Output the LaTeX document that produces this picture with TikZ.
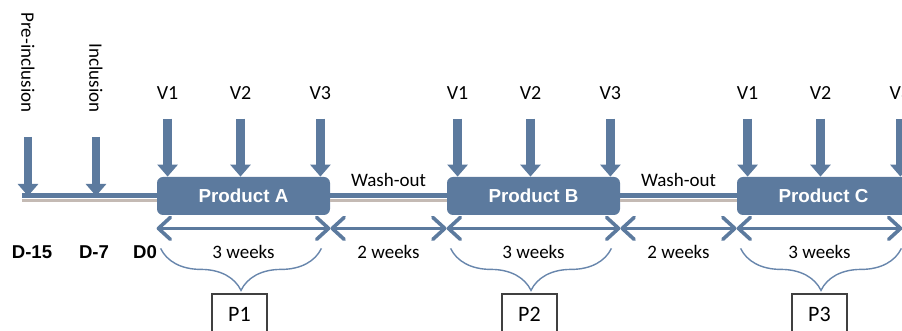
\documentclass[tikz,border=0pt]{standalone}
\usepackage{fontspec}
\setmainfont{Carlito}
\newfontfamily\arialfont{Liberation Sans}
\usetikzlibrary{arrows.meta,positioning,decorations.pathreplacing}
\definecolor{stblue}{RGB}{92,122,158}
\definecolor{stgrey}{RGB}{196,186,180}
\definecolor{brblue}{RGB}{104,134,172}
\definecolor{boxgrey}{RGB}{64,64,64}
\tikzset{
  product/.style={rectangle, rounded corners=3pt, fill=stblue, text=white,
    minimum width=86.5pt, minimum height=19pt,
    font=\arialfont\bfseries\fontsize{9.4}{11}\selectfont},
  visit/.style={draw=stblue, line width=4.2pt, -{Triangle[width=10pt,length=6pt]}},
  tline/.style={draw=stblue, line width=2.5pt},
  tgrey/.style={draw=stgrey, line width=1.5pt},
  span/.style={draw=stblue, line width=1.8pt,
    {Straight Barb[length=6pt,width=11pt,round]}-{Straight Barb[length=6pt,width=11pt,round]}},
  brc/.style={draw=brblue, line width=0.7pt, decorate,
    decoration={brace, mirror, amplitude=21pt}},
  pbox/.style={rectangle, draw=boxgrey, line width=0.6pt, fill=white,
    minimum width=27.5pt, minimum height=20pt, font=\fontsize{11}{13}\selectfont},
  vlab/.style={font=\fontsize{10}{12}\selectfont},
  wlab/.style={above=0pt, font=\fontsize{9.5}{11}\selectfont},
  slab/.style={below=4pt, font=\fontsize{9.5}{11}\selectfont},
  rlab/.style={rotate=-90, anchor=east, inner sep=0pt, font=\fontsize{9.5}{11}\selectfont},
  dlab/.style={font=\arialfont\bfseries\fontsize{9.3}{11}\selectfont}
}

\begin{document}
\begin{tikzpicture}[x=0.5pt,y=-0.5pt]
  \useasboundingbox (0,0) rectangle (902,331);

  % treatment periods
  \node[product] (pA) at (243.5,196) {Product A};
  \node[product] (pB) at (533.5,196) {Product B};
  \node[product] (pC) at (823.5,196) {Product C};
  \coordinate (start) at (22,196);

  % time line
  \draw[tgrey] ([yshift=-2.25pt]start) -- ([yshift=-2.25pt]pA.west);
  \draw[tgrey] ([yshift=-2.25pt]pA.east) -- ([yshift=-2.25pt]pB.west);
  \draw[tgrey] ([yshift=-2.25pt]pB.east) -- ([yshift=-2.25pt]pC.west);
  \draw[tline] (start) -- (pA.west);
  \draw[tline] (pA.east) -- node[wlab] {Wash-out} (pB.west);
  \draw[tline] (pB.east) -- node[wlab] {Wash-out} (pC.west);

  % screening visits
  \node[rlab] (pre) at (28,113) {Pre-inclusion};
  \node[rlab] (inc) at (96,113) {Inclusion};
  \draw[visit] ([yshift=-12pt]pre.east) -- (pre.east |- start);
  \draw[visit] ([yshift=-12pt]inc.east) -- (inc.east |- start);

  \node[dlab] (d15) at (32,252) {D-15};
  \node[dlab] (d7) at (94,252) {D-7};
  \node[dlab] (d0) at (145,252) {D0};

  % visits V1-V3
  \foreach \p in {A,B,C}{
    \foreach \i/\anc/\dx in {1/north west/5.5pt, 2/north/-1.5pt, 3/north east/-5pt}{
      \node[vlab] (v\p\i) at ([xshift=\dx,yshift=42pt]p\p.\anc) {V\i};
      \draw[visit] ([yshift=-13pt]v\p\i.center) -- (v\p\i |- p\p.north);
    }
    \coordinate (s\p) at ([yshift=-6.5pt]p\p.south west);
    \coordinate (e\p) at ([yshift=-6.5pt]p\p.south east);
  }

  % durations
  \draw[span] (sA) -- node[slab] {3 weeks} (eA);
  \draw[span] (eA) -- node[slab] {2 weeks} (sB);
  \draw[span] (sB) -- node[slab] {3 weeks} (eB);
  \draw[span] (eB) -- node[slab] {2 weeks} (sC);
  \draw[span] (sC) -- node[slab] {3 weeks} ([xshift=-4pt]eC);

  % periods P1-P3
  \foreach \p/\n in {A/1,B/2,C/3}{
    \node[pbox, below=39pt of p\p, xshift=-2pt] (P\n) {P\n};
    \draw[brc] ([xshift=2pt,yshift=-16.5pt]p\p.south west)
      -- ([xshift=-4.5pt,yshift=-16.5pt]p\p.south east);
  }
\end{tikzpicture}
\end{document}
